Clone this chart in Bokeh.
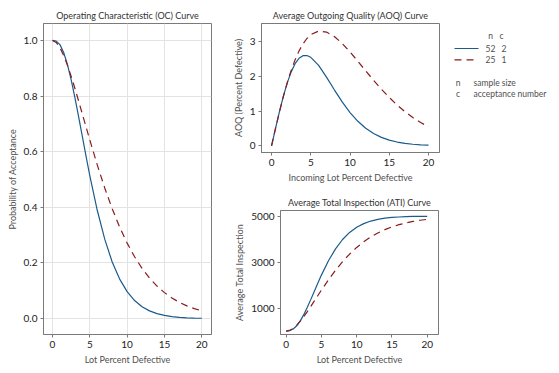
from bokeh.plotting import figure
from bokeh.layouts import row, column
from bokeh.models import Range1d, FixedTicker, ColumnDataSource, Spacer
from bokeh.core.properties import value
from bokeh.embed import file_html
from bokeh.resources import INLINE

# ---- data ----
pct = [0, 0.5, 1, 1.5, 2, 2.5, 3, 3.5, 4, 4.5, 5, 6, 7, 8, 9, 10,
       11, 12, 13, 14, 15, 16, 17, 18, 19, 20]
oc_52_2 = [1.0, 0.9976, 0.985, 0.9567, 0.914, 0.8593, 0.7955, 0.7261, 0.6547,
           0.5832, 0.5143, 0.3893, 0.2853, 0.2034, 0.1417, 0.0966, 0.0647,
           0.0425, 0.0275, 0.0175, 0.0110, 0.0068, 0.0042, 0.0025, 0.0015, 0.0009]
oc_25_1 = [1.0, 0.9930, 0.9742, 0.9462, 0.9114, 0.8714, 0.8280, 0.7825, 0.7358,
           0.6889, 0.6424, 0.5527, 0.4696, 0.3948, 0.3286, 0.2712, 0.2221,
           0.1805, 0.1456, 0.1168, 0.0931, 0.0737, 0.0580, 0.0454, 0.0354, 0.0274]
aoq_52_2 = [0.0, 0.494, 0.975, 1.420, 1.809, 2.126, 2.362, 2.515, 2.592, 2.597,
            2.545, 2.312, 1.976, 1.610, 1.262, 0.956, 0.704, 0.505, 0.354,
            0.243, 0.163, 0.108, 0.071, 0.045, 0.028, 0.018]
aoq_25_1 = [0.0, 0.494, 0.969, 1.412, 1.814, 2.168, 2.472, 2.725, 2.929, 3.085,
            3.196, 3.300, 3.271, 3.143, 2.943, 2.698, 2.431, 2.155, 1.883,
            1.627, 1.390, 1.173, 0.981, 0.813, 0.669, 0.545]
ati_52_2 = [52, 64, 126, 266, 478, 748, 1064, 1407, 1761, 2114, 2455, 3074,
            3588, 3994, 4299, 4522, 4680, 4790, 4864, 4913, 4946, 4966, 4979,
            4988, 4993, 4996]
ati_25_1 = [25, 60, 153, 293, 466, 665, 881, 1107, 1339, 1573, 1804, 2250,
            2664, 3036, 3365, 3651, 3895, 4102, 4276, 4419, 4537, 4633, 4712,
            4774, 4824, 4864]

x_ticks = [0, 5, 10, 15, 20]
oc_ticks = [0, 0.2, 0.4, 0.6, 0.8, 1.0]
oc_tick_labels = ["0.0", "0.2", "0.4", "0.6", "0.8", "1.0"]
aoq_ticks = [0, 1, 2, 3]
ati_ticks = [1000, 3000, 5000]

plan_n = ["52", "25"]
plan_c = ["2", "1"]
legend_head = ["n", "c"]
legend_keys = ["n", "c"]
legend_desc = ["sample size", "acceptance number"]

BLUE = "#1b5b8c"
RED = "#8a1b1b"
FONT = "Lato"
DASH = "7 5"


def style(p, title, xlabel, ylabel, grid=False):
    p.title.text = title
    p.title.align = "center"
    p.title.text_font = FONT
    p.title.text_font_size = "9px"
    p.title.text_font_style = "normal"
    p.title.text_color = "#333333"
    p.title.standoff = 5
    p.outline_line_color = "#7a7a7a"
    p.outline_line_width = 1
    p.background_fill_color = "white"
    p.border_fill_color = "white"
    for ax in (p.xaxis[0], p.yaxis[0]):
        ax.axis_line_color = "#7a7a7a"
        ax.major_tick_line_color = "#7a7a7a"
        ax.major_tick_out = 3
        ax.major_tick_in = 0
        ax.minor_tick_line_color = None
        ax.major_label_text_font = FONT
        ax.major_label_text_font_size = "10px"
        ax.major_label_text_color = "#222222"
        ax.major_label_standoff = 3
        ax.axis_label_text_font = FONT
        ax.axis_label_text_font_size = "9px"
        ax.axis_label_text_font_style = "normal"
        ax.axis_label_text_color = "#505050"
        ax.axis_label_standoff = 3
    p.xaxis[0].axis_label = xlabel
    p.yaxis[0].axis_label = ylabel
    p.xaxis[0].ticker = FixedTicker(ticks=x_ticks)
    if grid:
        p.xgrid.grid_line_color = "#e3e3e3"
        p.ygrid.grid_line_color = "#e3e3e3"
    else:
        p.xgrid.grid_line_color = None
        p.ygrid.grid_line_color = None


src = ColumnDataSource(dict(pct=pct, oc1=oc_52_2, oc2=oc_25_1, aoq1=aoq_52_2,
                            aoq2=aoq_25_1, ati1=ati_52_2, ati2=ati_25_1))

# ---- OC curve ----
p1 = figure(frame_width=168, frame_height=311, min_border_left=43, min_border_right=7,
            min_border_top=23, min_border_bottom=34,
            x_range=Range1d(-1.2, 21.3), y_range=Range1d(-0.0575, 1.061),
            output_backend="svg", toolbar_location=None)
style(p1, "Operating Characteristic (OC) Curve", "Lot Percent Defective",
      "Probability of Acceptance", grid=True)
p1.yaxis[0].ticker = FixedTicker(ticks=oc_ticks)
p1.yaxis[0].major_label_overrides = {t: l for t, l in zip(oc_ticks, oc_tick_labels)}
p1.line("pct", "oc1", source=src, line_color=BLUE, line_width=1.2)
p1.line("pct", "oc2", source=src, line_color=RED, line_width=1.2, line_dash=DASH)

# ---- AOQ curve ----
p2 = figure(frame_width=178, frame_height=129, min_border_left=43, min_border_right=11,
            min_border_top=23, min_border_bottom=34,
            x_range=Range1d(-1.28, 21.4), y_range=Range1d(-0.193, 3.517),
            output_backend="svg", toolbar_location=None)
style(p2, "Average Outgoing Quality (AOQ) Curve", "Incoming Lot Percent Defective",
      "AOQ (Percent Defective)")
p2.yaxis[0].ticker = FixedTicker(ticks=aoq_ticks)
p2.line("pct", "aoq1", source=src, line_color=BLUE, line_width=1.2)
p2.line("pct", "aoq2", source=src, line_color=RED, line_width=1.2, line_dash=DASH)

# ---- ATI curve ----
p3 = figure(frame_width=158, frame_height=124, min_border_left=52, min_border_right=12,
            min_border_top=24, min_border_bottom=34,
            x_range=Range1d(-0.8, 21.6), y_range=Range1d(-110, 5246),
            output_backend="svg", toolbar_location=None)
style(p3, "Average Total Inspection (ATI) Curve", "Lot Percent Defective",
      "Average Total Inspection")
p3.yaxis[0].ticker = FixedTicker(ticks=ati_ticks)
p3.line("pct", "ati1", source=src, line_color=BLUE, line_width=1.2)
p3.line("pct", "ati2", source=src, line_color=RED, line_width=1.2, line_dash=DASH)

# ---- legend panel: pixel space, origin at the panel's frame top-left ----
LG_LEFT, LG_TOP = 450, 23
lg = figure(title=None, frame_width=100, frame_height=311, min_border_left=0,
            min_border_right=0, min_border_top=LG_TOP, min_border_bottom=34,
            x_range=Range1d(0, 100), y_range=Range1d(311, 0),
            output_backend="svg", toolbar_location=None)
lg.axis.visible = False
lg.xgrid.grid_line_color = None
lg.ygrid.grid_line_color = None
lg.outline_line_color = None
lg.border_fill_color = "white"
LFS = "8.5px"
LCOL = "#505050"


def gx(px):
    return px - LG_LEFT


def gy(py):
    return py - LG_TOP


TXT = dict(text_baseline="middle", text_font=value(FONT), text_font_size=LFS,
           text_color=LCOL)
lg.text(x=[gx(490), gx(501)], y=[gy(35.7)] * 2, text=legend_head, text_align="center", **TXT)
lg.segment(x0=[gx(454)], y0=[gy(48)], x1=[gx(478)], y1=[gy(48)],
           line_color=BLUE, line_width=1.2)
lg.segment(x0=[gx(454)], y0=[gy(59.3)], x1=[gx(478)], y1=[gy(59.3)],
           line_color=RED, line_width=1.2, line_dash=DASH)
lg.text(x=[gx(490)] * 2, y=[gy(48), gy(59.3)], text=plan_n, text_align="center", **TXT)
lg.text(x=[gx(503.5)] * 2, y=[gy(48), gy(59.3)], text=plan_c, text_align="center", **TXT)
lg.text(x=[gx(457.5)] * 2, y=[gy(82.3), gy(93.3)], text=legend_keys, text_align="center", **TXT)
lg.text(x=[gx(473)] * 2, y=[gy(82.3), gy(93.3)], text=legend_desc, text_align="left", **TXT)

right_col = column(row(p2), row(Spacer(width=10, height=182), p3))
layout = row(p1, right_col, lg)
open("out.html", "w").write(file_html(layout, INLINE))
